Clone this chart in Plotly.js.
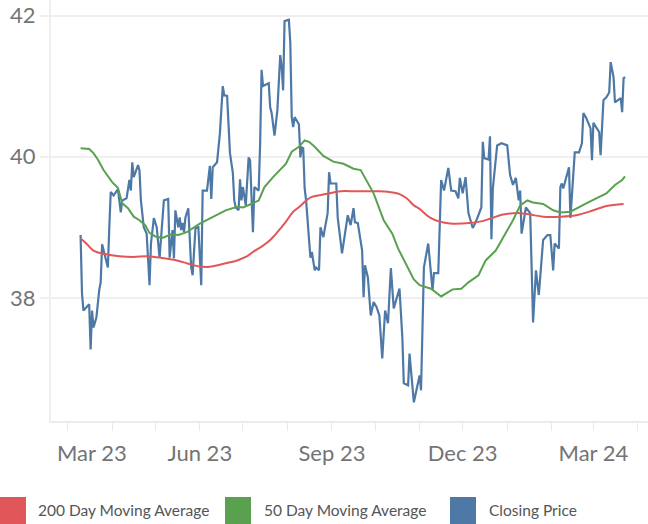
<!DOCTYPE html>
<html>
<head>
<meta charset="utf-8">
<script src="https://cdn.plot.ly/plotly-3.0.1.min.js"></script>
<style>
  html, body { margin: 0; padding: 0; background: #fff; }
  #chart { width: 648px; height: 524px; }
</style>
</head>
<body>
<div id="chart"></div>
<script>
// closing price
var closeDates = [
  '2023-03-10','2023-03-11','2023-03-12','2023-03-16','2023-03-17','2023-03-18','2023-03-19','2023-03-21','2023-03-23','2023-03-24',
  '2023-03-25','2023-03-28','2023-03-29','2023-03-30','2023-03-31','2023-04-02','2023-04-04','2023-04-05','2023-04-07','2023-04-08',
  '2023-04-11','2023-04-13','2023-04-14','2023-04-15','2023-04-16','2023-04-19','2023-04-20','2023-04-21','2023-04-23','2023-04-25',
  '2023-04-27','2023-04-28','2023-04-30','2023-05-02','2023-05-04','2023-05-07','2023-05-10','2023-05-11','2023-05-13','2023-05-14',
  '2023-05-15','2023-05-17','2023-05-18','2023-05-19','2023-05-20','2023-05-21','2023-05-22','2023-05-24','2023-05-26','2023-05-27',
  '2023-05-29','2023-05-31','2023-06-02','2023-06-03','2023-06-06','2023-06-08','2023-06-09','2023-06-10','2023-06-13','2023-06-15',
  '2023-06-17','2023-06-18','2023-06-20','2023-06-22','2023-06-24','2023-06-25','2023-06-26','2023-06-28','2023-06-29','2023-06-30',
  '2023-07-01','2023-07-03','2023-07-05','2023-07-06','2023-07-08','2023-07-09','2023-07-12','2023-07-13','2023-07-14','2023-07-15',
  '2023-07-19','2023-07-20','2023-07-21','2023-07-23','2023-07-25','2023-07-27','2023-07-28','2023-07-29','2023-07-30','2023-08-02',
  '2023-08-03','2023-08-04','2023-08-05','2023-08-06','2023-08-09','2023-08-10','2023-08-11','2023-08-12','2023-08-13','2023-08-14',
  '2023-08-17','2023-08-18','2023-08-20','2023-08-21','2023-08-23','2023-08-24','2023-08-26','2023-08-29','2023-08-30','2023-08-31',
  '2023-09-02','2023-09-04','2023-09-05','2023-09-08','2023-09-12','2023-09-14','2023-09-16','2023-09-17','2023-09-19','2023-09-22',
  '2023-09-23','2023-09-24','2023-09-26','2023-09-28','2023-09-30','2023-10-02','2023-10-04','2023-10-06','2023-10-08','2023-10-10',
  '2023-10-12','2023-10-14','2023-10-18','2023-10-20','2023-10-21','2023-10-24','2023-10-25','2023-10-28','2023-11-01','2023-11-02',
  '2023-11-04','2023-11-07','2023-11-10','2023-11-11','2023-11-14','2023-11-16','2023-11-18','2023-11-21','2023-11-23','2023-11-26',
  '2023-11-28','2023-11-29','2023-12-01','2023-12-03','2023-12-05','2023-12-08','2023-12-10','2023-12-13','2023-12-14','2023-12-15',
  '2023-12-16','2023-12-19','2023-12-20','2023-12-21','2023-12-22','2023-12-25','2023-12-28','2024-01-01','2024-01-03','2024-01-05',
  '2024-01-07','2024-01-09','2024-01-10','2024-01-11','2024-01-14','2024-01-17','2024-01-19','2024-01-21','2024-01-23','2024-01-26',
  '2024-01-29','2024-01-31','2024-02-02','2024-02-03','2024-02-06','2024-02-07','2024-02-08','2024-02-09','2024-02-13','2024-02-14',
  '2024-02-16','2024-02-17','2024-02-20','2024-02-22','2024-02-23','2024-02-25','2024-02-28','2024-02-29','2024-03-01','2024-03-03',
  '2024-03-05','2024-03-06','2024-03-08','2024-03-10','2024-03-12','2024-03-13','2024-03-15','2024-03-16','2024-03-18','2024-03-20',
  '2024-03-21','2024-03-22','2024-03-23'
];
var closeValues = [
  38.89,38.06,37.82,37.91,37.27,37.82,37.58,37.72,38.11,38.22,
  38.76,38.53,38.43,39.00,39.50,39.45,39.52,39.54,39.21,39.38,
  39.41,39.67,39.52,39.92,39.71,39.88,39.81,39.38,39.00,38.91,
  38.18,38.77,39.13,39.00,38.57,39.38,39.40,38.57,38.96,38.56,
  39.24,39.00,39.14,38.96,39.06,38.93,39.14,39.27,38.43,38.32,
  38.99,39.00,38.18,39.52,39.52,39.87,39.40,39.85,39.92,40.33,
  41.00,40.87,40.86,40.05,39.77,39.38,39.28,39.24,39.68,39.38,
  39.57,39.31,39.99,39.95,38.93,39.57,39.52,40.19,41.23,41.00,
  41.04,40.70,40.62,40.30,40.66,41.44,41.27,40.94,41.92,41.94,
  41.61,40.56,40.42,40.56,40.46,39.99,40.13,40.12,39.55,39.38,
  38.57,38.65,38.39,38.43,38.39,39.00,38.86,39.20,39.78,39.62,
  39.62,39.62,39.14,38.63,39.17,39.03,39.27,39.07,39.06,38.67,
  38.01,38.46,38.29,37.75,37.94,37.87,37.75,37.14,37.82,37.64,
  38.42,37.85,38.13,37.44,36.79,36.76,37.21,36.52,36.90,36.69,
  38.43,38.77,38.11,38.35,38.35,39.67,39.52,39.84,39.52,39.51,
  39.41,39.70,39.48,39.71,39.20,38.99,39.07,39.24,39.28,40.21,
  39.98,39.96,40.29,38.83,39.55,40.16,40.19,40.16,39.74,39.60,
  39.70,39.38,39.52,38.91,39.28,39.20,37.65,38.39,38.04,38.82,
  38.89,38.89,38.39,38.77,38.70,39.57,39.62,39.55,39.85,39.13,
  39.67,40.06,40.06,40.19,40.62,40.55,40.40,39.95,40.48,40.42,
  40.35,40.02,40.80,40.84,40.91,41.34,41.13,40.77,40.80,40.83,
  40.63,41.11,41.13
];

// 50 day moving average
var ma50Dates = [
  '2023-03-10','2023-03-16','2023-03-19','2023-03-22','2023-03-26','2023-03-28','2023-04-01','2023-04-05','2023-04-08','2023-04-12',
  '2023-04-16','2023-04-20','2023-04-24','2023-04-27','2023-05-01','2023-05-06','2023-05-12','2023-05-17','2023-05-23','2023-06-01',
  '2023-06-10','2023-06-19','2023-06-27','2023-07-01','2023-07-08','2023-07-12','2023-07-16','2023-07-22','2023-07-31','2023-08-04',
  '2023-08-09','2023-08-13','2023-08-16','2023-08-20','2023-08-26','2023-09-02','2023-09-09','2023-09-16','2023-09-21','2023-09-25',
  '2023-09-30','2023-10-07','2023-10-13','2023-10-17','2023-10-22','2023-10-28','2023-11-01','2023-11-09','2023-11-16','2023-11-24',
  '2023-11-30','2023-12-05','2023-12-12','2023-12-17','2023-12-24','2023-12-31','2024-01-05','2024-01-10','2024-01-15','2024-01-19',
  '2024-01-26','2024-02-02','2024-02-07','2024-02-14','2024-02-20','2024-02-25','2024-03-03','2024-03-10','2024-03-16','2024-03-21',
  '2024-03-23'
];
var ma50Values = [
  40.12,40.11,40.05,39.96,39.81,39.75,39.64,39.56,39.34,39.27,
  39.15,39.10,39.03,38.92,38.87,38.85,38.90,38.89,38.93,39.05,
  39.15,39.24,39.29,39.28,39.34,39.38,39.57,39.71,39.90,40.07,
  40.14,40.23,40.21,40.14,40.01,39.93,39.90,39.83,39.81,39.67,
  39.48,39.10,38.91,38.70,38.49,38.26,38.18,38.13,38.02,38.12,
  38.13,38.22,38.32,38.53,38.67,38.91,39.10,39.31,39.38,39.35,
  39.33,39.24,39.21,39.22,39.29,39.34,39.41,39.48,39.60,39.67,
  39.72
];

// 200 day moving average
var ma200Dates = [
  '2023-03-10','2023-03-14','2023-03-19','2023-03-27','2023-04-06','2023-04-16','2023-04-25','2023-05-04','2023-05-14','2023-05-23',
  '2023-05-28','2023-06-03','2023-06-08','2023-06-15','2023-06-19','2023-06-27','2023-07-04','2023-07-08','2023-07-15','2023-07-20',
  '2023-07-25','2023-07-31','2023-08-05','2023-08-10','2023-08-14','2023-08-18','2023-08-28','2023-09-07','2023-09-18','2023-10-02',
  '2023-10-11','2023-10-18','2023-10-23','2023-10-28','2023-11-01','2023-11-08','2023-11-15','2023-11-24','2023-12-06','2023-12-13',
  '2023-12-20','2023-12-29','2024-01-10','2024-01-17','2024-01-26','2024-02-07','2024-02-18','2024-03-01','2024-03-10','2024-03-22'
];
var ma200Values = [
  38.84,38.77,38.67,38.62,38.59,38.58,38.59,38.57,38.54,38.49,
  38.46,38.44,38.44,38.47,38.49,38.53,38.59,38.65,38.74,38.82,
  38.93,39.08,39.22,39.30,39.38,39.43,39.47,39.51,39.51,39.51,
  39.50,39.47,39.41,39.31,39.26,39.14,39.08,39.05,39.06,39.08,
  39.12,39.18,39.20,39.18,39.15,39.15,39.17,39.24,39.30,39.33
];

var tickMonths = ['2023-03-01','2023-04-01','2023-05-01','2023-06-01','2023-07-01','2023-08-01','2023-09-01',
  '2023-10-01','2023-11-01','2023-12-01','2024-01-01','2024-02-01','2024-03-01','2024-04-01'];
var tickLabels = ['', '', '', 'Jun 23', '', '', 'Sep 23', '', '', 'Dec 23', '', '', 'Mar 24', ''];
var yTicks = [38, 40, 42];

var seriesNames = ['200 Day Moving Average', '50 Day Moving Average', 'Closing Price'];
var seriesColors = ['#e15759', '#59a14f', '#4e79a7'];

var fontFam = 'Lato, "Open Sans", sans-serif';
var grid = '#efefef';
var tickFont = { family: fontFam, size: 22, color: '#747474' };

var data = [
  { x: closeDates, y: closeValues, type: 'scatter', mode: 'lines', name: seriesNames[2],
    line: { color: seriesColors[2], width: 2.2 } },
  { x: ma200Dates, y: ma200Values, type: 'scatter', mode: 'lines', name: seriesNames[0],
    line: { color: seriesColors[0], width: 2, shape: 'spline' } },
  { x: ma50Dates, y: ma50Values, type: 'scatter', mode: 'lines', name: seriesNames[1],
    line: { color: seriesColors[1], width: 2 } }
];

// legend drawn by hand: square swatches + labels under the axis
var shapes = [];
var annotations = [];
var swatchX = [-51, 174, 399];
var textX = [-15, 211, 436];
for (var i = 0; i < 3; i++) {
  shapes.push({
    type: 'rect', xref: 'paper', yref: 'paper',
    xsizemode: 'pixel', ysizemode: 'pixel', xanchor: 0, yanchor: 0,
    x0: swatchX[i], x1: swatchX[i] + 26, y0: -76, y1: -104,
    fillcolor: seriesColors[i], line: { width: 0 }
  });
  annotations.push({
    text: seriesNames[i], xref: 'paper', yref: 'paper', x: 0, y: 0,
    xshift: textX[i], yshift: -89, xanchor: 'left', yanchor: 'middle',
    showarrow: false, font: { family: fontFam, size: 15.5, color: '#555' }
  });
}
// first axis label sits shifted right of its tick, as in the source
annotations.push({
  text: 'Mar 23', xref: 'x', yref: 'paper', x: '2023-03-18', y: 0,
  yshift: -31, yanchor: 'middle', showarrow: false, font: tickFont
});

var layout = {
  width: 648, height: 524,
  margin: { l: 51, r: 0, t: 0, b: 103 },
  paper_bgcolor: '#fff', plot_bgcolor: '#fff',
  showlegend: false,
  xaxis: {
    type: 'date', range: ['2023-02-17 10:00', '2024-04-08'],
    tickmode: 'array', tickvals: tickMonths, ticktext: tickLabels,
    ticks: 'outside', ticklen: 8, tickcolor: '#e8e8e8', tickwidth: 1,
    showgrid: false, zeroline: false, showline: true, linecolor: '#ececec', linewidth: 1.5,
    ticklabelstandoff: 4,
    tickfont: tickFont, fixedrange: true
  },
  yaxis: {
    range: [36.255, 42.22], tickmode: 'array', tickvals: yTicks,
    ticks: 'outside', ticklen: 9, tickcolor: grid, tickwidth: 2,
    showgrid: true, gridcolor: grid, gridwidth: 2, zeroline: false,
    showline: true, linecolor: grid, linewidth: 2,
    tickfont: tickFont, fixedrange: true
  },
  shapes: shapes,
  annotations: annotations
};

Plotly.newPlot('chart', data, layout, { displayModeBar: false, staticPlot: true });
</script>
</body>
</html>
